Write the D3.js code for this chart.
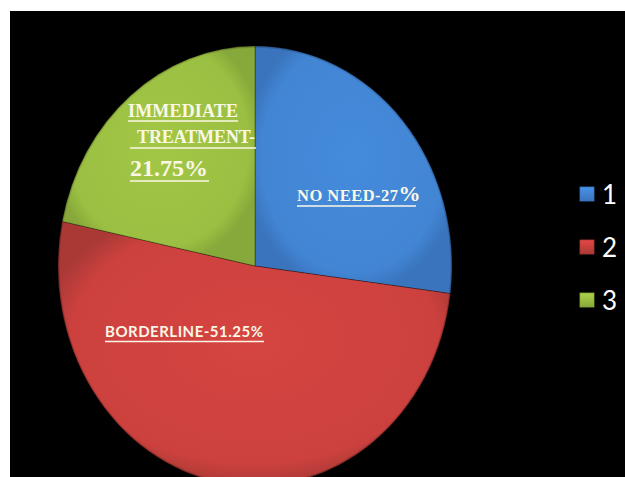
<!DOCTYPE html>
<html><head><meta charset="utf-8">
<script src="https://cdn.jsdelivr.net/npm/d3@7"></script>
<style>html,body{margin:0;padding:0;background:#fff;}</style>
</head><body>
<svg id="c" width="625" height="477"></svg>
<script>
const categories = ["1", "2", "3"];
const values = [27, 51.25, 21.75];
const labels = ["NO NEED-27%", "BORDERLINE-51.25%", "IMMEDIATE TREATMENT-21.75%"];
const colors = ["#4285d3", "#cc413e", "#9bbf42"];
const darkColors = ["#3a74bd", "#aa3936", "#87a83a"];

const svg = d3.select("#c");
svg.append("rect").attr("x", 10).attr("y", 11).attr("width", 615).attr("height", 466).attr("fill", "#000");

const cx = 255, cy = 266, rx = 197, ry = 220;
const defs = svg.append("defs");
categories.forEach((c, i) => {
  const g = defs.append("radialGradient").attr("id", "g" + i)
    .attr("cx", "50%").attr("cy", "45%").attr("r", "55%");
  g.append("stop").attr("offset", "0%").attr("stop-color", d3.color(colors[i]).brighter(0.12));
  g.append("stop").attr("offset", "85%").attr("stop-color", colors[i]);
  g.append("stop").attr("offset", "100%").attr("stop-color", darkColors[i]);
  const lg = defs.append("linearGradient").attr("id", "l" + i).attr("x1", 0).attr("y1", 0).attr("x2", 0).attr("y2", 1);
  lg.append("stop").attr("offset", "0%").attr("stop-color", d3.color(colors[i]).brighter(0.3));
  lg.append("stop").attr("offset", "100%").attr("stop-color", darkColors[i]);
});
const clip = defs.append("clipPath").attr("id", "bg");
clip.append("rect").attr("x", 10).attr("y", 11).attr("width", 615).attr("height", 466);

const pie = d3.pie().sort(null).value(d => d)(values);
const arc = d3.arc().innerRadius(0).outerRadius(rx);
const pg = svg.append("g").attr("clip-path", "url(#bg)")
  .append("g").attr("transform", `translate(${cx},${cy}) scale(1,${ry / rx})`);
pg.selectAll("path.s").data(pie).enter().append("path")
  .attr("class", "s")
  .attr("d", arc)
  .attr("fill", (d, i) => `url(#g${i})`)
  .attr("stroke", "rgba(0,0,0,0.3)")
  .attr("stroke-width", 1)
  .attr("vector-effect", "non-scaling-stroke");
pg.selectAll("path.h").data(pie).enter().append("path")
  .attr("class", "h")
  .attr("d", d3.arc().innerRadius(rx - 1.5).outerRadius(rx))
  .attr("fill", "rgba(0,0,0,0.15)");

const tc = "#fbf7e6";
const serif = "'Liberation Serif','Times New Roman',serif";
const sans = "Lato,'Open Sans',sans-serif";
const lab = svg.append("g").attr("fill", tc);
function ul(x1, x2, y) {
  lab.append("line").attr("x1", x1).attr("x2", x2).attr("y1", y).attr("y2", y)
    .attr("stroke", tc).attr("stroke-width", 1.3);
}
const l3 = labels[2].split(" ");
lab.append("text").attr("x", 128).attr("y", 117).attr("font-family", serif).attr("font-weight", "bold")
  .attr("font-size", 18).attr("textLength", 110).text(l3[0]);
ul(128, 238, 121);
lab.append("text").attr("x", 137).attr("y", 143).attr("font-family", serif).attr("font-weight", "bold")
  .attr("font-size", 18).attr("textLength", 118).text(l3[1].split("-")[0] + "-");
ul(130, 256, 148);
lab.append("text").attr("x", 130).attr("y", 176).attr("font-family", serif).attr("font-weight", "bold")
  .attr("font-size", 24).attr("textLength", 78).text(l3[1].split("-")[1]);
ul(130, 209, 181);
const l1 = labels[0].replace("%", "");
const t1 = lab.append("text").attr("x", 297).attr("y", 201).attr("font-family", serif).attr("font-weight", "bold");
t1.append("tspan").attr("font-size", 16.5).attr("textLength", 101).text(l1);
t1.append("tspan").attr("font-size", 22).text("%");
ul(297, 416, 206);
lab.append("text").attr("x", 105).attr("y", 337).attr("font-family", sans).attr("font-weight", "bold")
  .attr("font-size", 15).attr("textLength", 158).text(labels[1]);
ul(105, 264, 341.5);

const leg = svg.append("g");
const ly = d3.scalePoint().domain(categories).range([194, 300]);
categories.forEach((c, i) => {
  leg.append("rect").attr("x", 580).attr("y", ly(c) - 7).attr("width", 14).attr("height", 14)
    .attr("fill", `url(#l${i})`).attr("stroke", darkColors[i]).attr("stroke-width", 0.8);
  leg.append("text").attr("x", 602).attr("y", ly(c) + 9.5).attr("fill", "#fff")
    .attr("font-family", sans).attr("font-size", 26).text(c);
});
</script>
</body></html>
